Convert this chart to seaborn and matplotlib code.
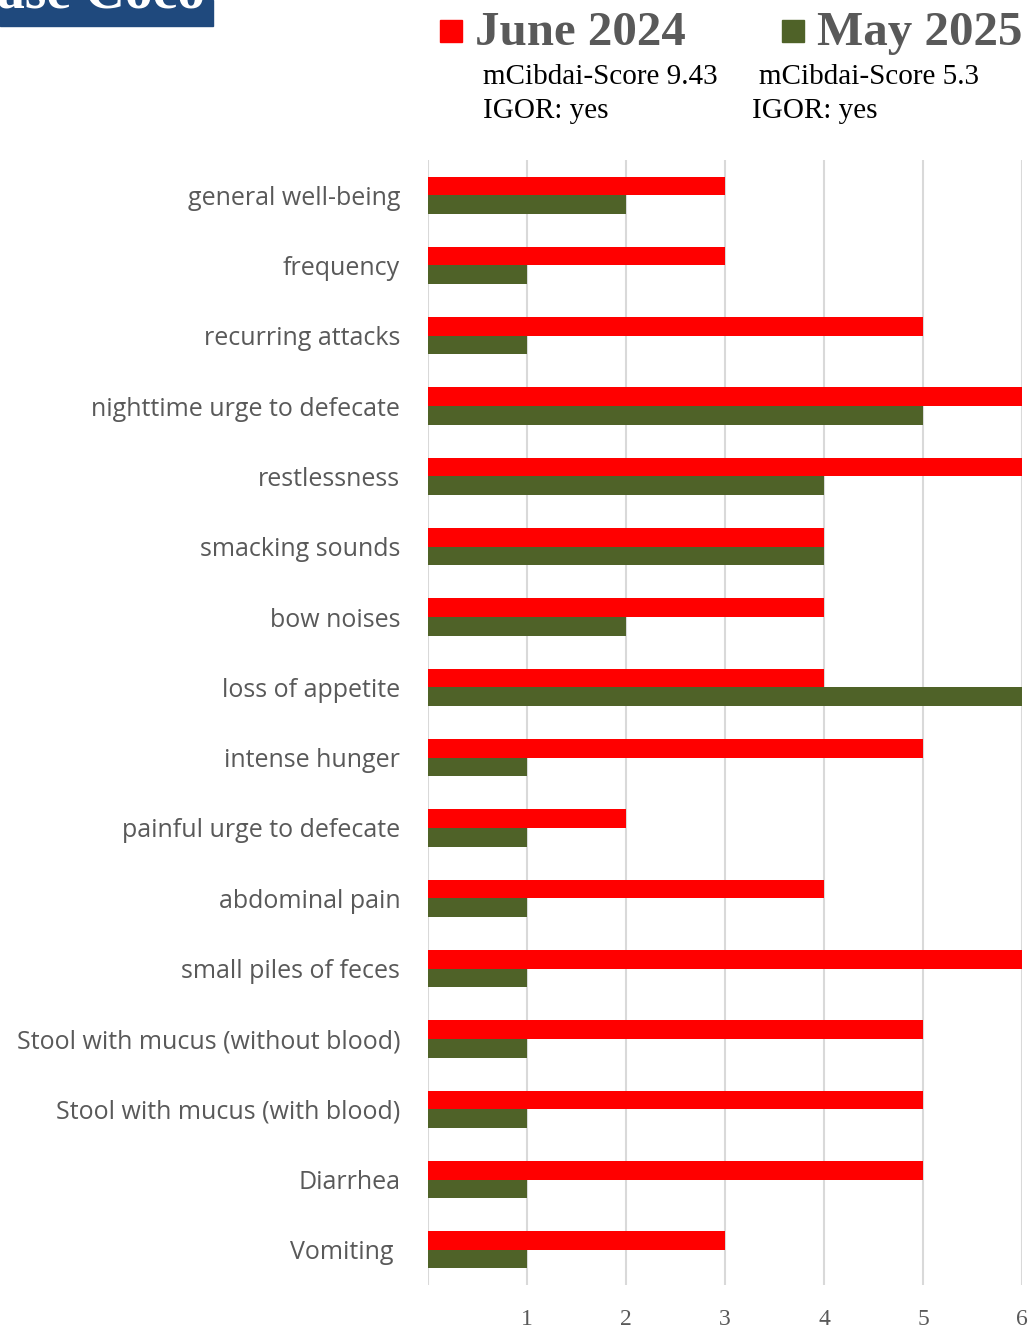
import matplotlib
matplotlib.use("Agg")
import matplotlib.pyplot as plt
import matplotlib.patches as mpatches
import seaborn as sns
import pandas as pd

categories = [
    "general well-being", "frequency", "recurring attacks",
    "nighttime urge to defecate", "restlessness", "smacking sounds",
    "bow noises", "loss of appetite", "intense hunger",
    "painful urge to defecate", "abdominal pain", "small piles of feces",
    "Stool with mucus (without blood)", "Stool with mucus (with blood)",
    "Diarrhea", "Vomiting ",
]
june_2024 = [3, 3, 5, 6, 6, 4, 4, 4, 5, 2, 4, 6, 5, 5, 5, 3]
may_2025 = [2, 1, 1, 5, 4, 4, 2, 6, 1, 1, 1, 1, 1, 1, 1, 1]
series_names = ["June 2024", "May 2025"]
series_notes = [("mCibdai-Score 9.43", "IGOR: yes"), ("mCibdai-Score 5.3", "IGOR: yes")]
x_ticks = [1, 2, 3, 4, 5, 6]
title_text = "Case Coco"

colors = ["#FF0000", "#4F6228"]

df = pd.DataFrame({
    "category": categories * 2,
    "value": june_2024 + may_2025,
    "series": [series_names[0]] * len(categories) + [series_names[1]] * len(categories),
})

sns.set_theme(style="white")
W, H = 1029, 1330
fig = plt.figure(figsize=(W / 100, H / 100), dpi=100)
ax = fig.add_axes([428 / W, 1 - 1285 / H, (1022 - 428) / W, (1285 - 160) / H])

sns.barplot(data=df, y="category", x="value", hue="series", order=categories,
            hue_order=series_names, palette=colors, orient="h", width=0.53,
            gap=0, ax=ax, legend=False, saturation=1, edgecolor="none")

ax.set_xlim(0, 6)
ax.set_ylim(len(categories) - 0.5, -0.5)
ax.set_xticks(x_ticks)
ax.set_xticklabels([str(t) for t in x_ticks], family="Liberation Serif",
                   fontsize=17, color="#595959")
ax.tick_params(axis="x", length=0, pad=17)
ax.tick_params(axis="y", length=0, pad=20)
for lab in ax.get_yticklabels():
    lab.set_family("Open Sans")
    lab.set_fontsize(18)
    lab.set_color("#595959")
ax.set_xlabel("")
ax.set_ylabel("")
for s in ax.spines.values():
    s.set_visible(False)
for xv in range(0, 7):
    ax.axvline(xv, color="#D9D9D9", lw=1.5, zorder=0)
ax.set_axisbelow(True)

# title box (cut off at top-left)
fig.patches.append(mpatches.Rectangle((0, 1 - 26 / H), 213 / W, 26 / H,
                                      transform=fig.transFigure, color="#1F497D",
                                      zorder=0))
fig.text(205 / W, 1 - 8 / H, title_text, ha="right", va="baseline",
         family="Liberation Serif", weight="bold", fontsize=40, color="white")

# legend
leg_x = [440, 782]
txt_x = [475, 817]
note_x = [(483, 483), (759, 752)]
for i in range(2):
    fig.patches.append(mpatches.Rectangle((leg_x[i] / W, 1 - 42 / H), 22 / W, 22 / H,
                                          transform=fig.transFigure, color=colors[i]))
    fig.text(txt_x[i] / W, 1 - 45 / H, series_names[i], ha="left", va="baseline",
             family="Liberation Serif", weight="bold", fontsize=35.3, color="#595959")
    fig.text(note_x[i][0] / W, 1 - 84 / H, series_notes[i][0], ha="left", va="baseline",
             family="Liberation Serif", fontsize=21, color="black")
    fig.text(note_x[i][1] / W, 1 - 118 / H, series_notes[i][1], ha="left", va="baseline",
             family="Liberation Serif", fontsize=21, color="black")

fig.savefig("out.png", dpi=100)
